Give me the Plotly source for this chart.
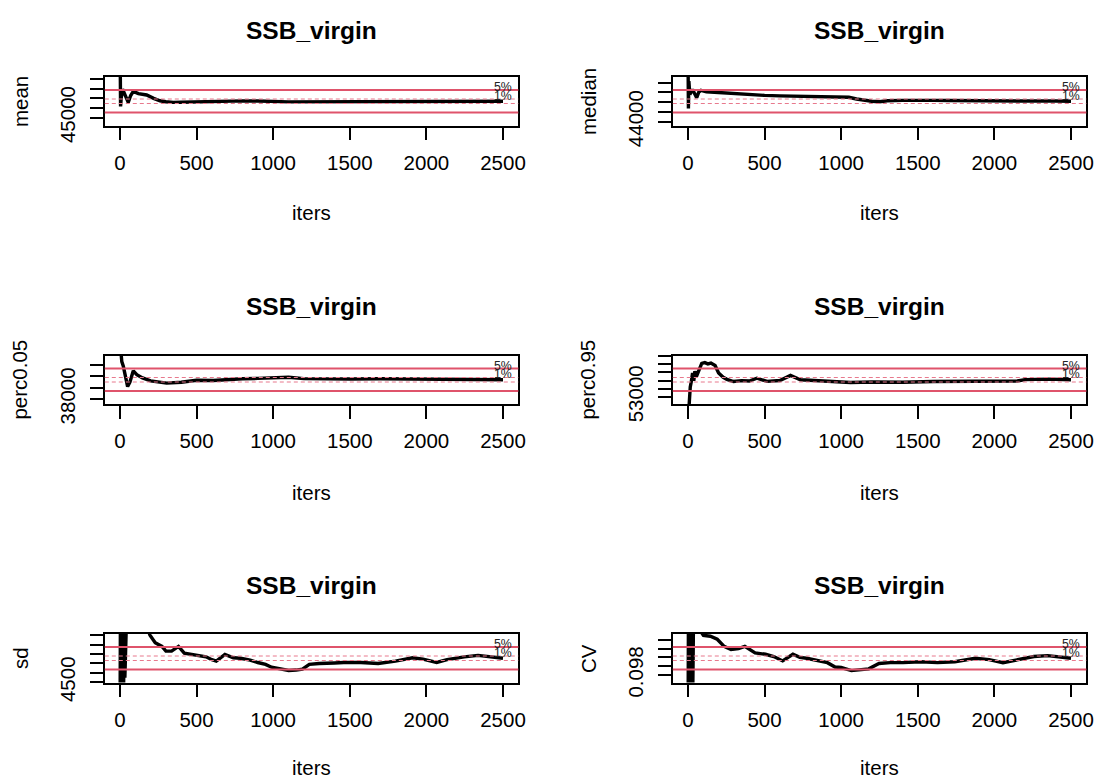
import plotly.graph_objects as go
from plotly.subplots import make_subplots

# ---------------- data ----------------
x_ticks = [0, 500, 1000, 1500, 2000, 2500]
title_text = "SSB_virgin"
x_title = "iters"

mean_iters = [1, 2, 4, 8, 17, 30, 54, 70, 87, 120, 174, 220, 261, 300, 348, 400, 500, 600, 700,
              800, 900, 1000, 1050, 1100, 1200, 1400, 1600, 1800, 2000, 2200, 2400, 2500]
mean_vals = [52000, 50000, 46160, 47000, 47960, 47400, 46580, 47300, 47730, 47500, 47350, 47000,
             46750, 46650, 46580, 46600, 46650, 46720, 46760, 46740, 46720, 46730, 46660, 46640,
             46640, 46650, 46660, 46660, 46660, 46670, 46690, 46700]
mean_ticks = [45000, 46000, 47000, 48000, 49000]
mean_ticktext = ["45000", "", "", "", ""]

median_iters = [1, 3, 6, 10, 20, 30, 45, 57, 70, 85, 120, 200, 300, 400, 500, 600, 700, 800, 900,
                1000, 1050, 1100, 1150, 1200, 1250, 1300, 1400, 1500, 1600, 1700, 1800, 1900,
                2000, 2100, 2200, 2300, 2400, 2500]
median_vals = [49500, 45360, 48170, 47250, 47020, 47300, 46790, 46470, 47020, 47210, 47070, 46980,
               46840, 46750, 46700, 46650, 46630, 46610, 46580, 46560, 46510, 46330, 46190, 46100,
               46050, 46150, 46190, 46220, 46190, 46170, 46150, 46120, 46100, 46080, 46120, 46120,
               46120, 46100]
median_ticks = [44000, 45000, 46000, 47000, 48000]
median_ticktext = ["44000", "", "", "", ""]

p05_iters = [1, 3, 12, 22, 35, 50, 65, 87, 110, 147, 200, 305, 400, 500, 610, 700, 800, 900, 1000,
             1100, 1200, 1300, 1500, 1700, 1900, 2100, 2300, 2500]
p05_vals = [43000, 42500, 41300, 40890, 40200, 39100, 39500, 40490, 40150, 39860, 39600, 39400,
            39480, 39650, 39640, 39720, 39790, 39820, 39900, 39920, 39800, 39770, 39760, 39790,
            39760, 39780, 39740, 39700]
p05_ticks = [38000, 39000, 40000, 41000]
p05_ticktext = ["38000", "", "", ""]

p95_iters = [1, 5, 10, 15, 22, 30, 38, 45, 55, 70, 90, 110, 130, 150, 177, 200, 230, 254, 297, 350,
             400, 450, 516, 600, 669, 734, 843, 950, 1061, 1200, 1400, 1600, 1800, 2000, 2150, 2200,
             2350, 2500]
p95_vals = [50000, 51500, 52900, 54220, 54880, 55930, 54980, 56150, 55500, 56100, 57110, 57200,
            57050, 57150, 56860, 55930, 55400, 55150, 54880, 54990, 54940, 55290, 54900, 55000,
            55630, 55100, 54990, 54950, 54770, 54830, 54800, 54890, 54920, 54940, 54950, 55120,
            55180, 55100]
p95_ticks = [53000, 54000, 55000, 56000, 57000, 58000]
p95_ticktext = ["53000", "", "", "", "", ""]

sd_iters = [1, 3, 5, 8, 11, 14, 17, 20, 24, 28, 32, 38, 45, 80, 120, 160, 196, 230, 274, 300, 337,
            382, 420, 472, 520, 562, 600, 629, 685, 740, 787, 850, 899, 950, 989, 1050, 1101, 1150,
            1191, 1236, 1300, 1400, 1461, 1573, 1685, 1798, 1910, 1978, 2067, 2135, 2200, 2247,
            2337, 2449, 2500]
sd_vals = [4300, 5200, 4350, 5150, 4400, 5100, 4450, 5100, 4480, 5080, 4550, 5100, 5300, 5400, 5300,
           5150, 5000, 4920, 4880, 4830, 4830, 4880, 4810, 4795, 4780, 4770, 4740, 4725, 4795, 4760,
           4755, 4735, 4710, 4690, 4660, 4640, 4625, 4630, 4640, 4690, 4700, 4705, 4710, 4710, 4700,
           4725, 4760, 4745, 4710, 4740, 4760, 4770, 4785, 4760, 4755]
sd_ticks = [4500, 4600, 4700, 4800, 4900, 5000]
sd_ticktext = ["4500", "", "", "", "", ""]

cv_iters = [1, 3, 5, 8, 11, 14, 17, 20, 24, 28, 32, 36, 60, 101, 146, 191, 236, 281, 330, 371, 438,
            506, 560, 618, 685, 730, 775, 850, 910, 960, 1000, 1067, 1120, 1180, 1247, 1320, 1404,
            1517, 1629, 1742, 1876, 1966, 2056, 2146, 2258, 2348, 2438, 2500]
cv_vals = [0.090, 0.110, 0.092, 0.109, 0.093, 0.108, 0.094, 0.108, 0.095, 0.108, 0.096, 0.110,
           0.109, 0.1070, 0.1068, 0.1061, 0.1045, 0.1038, 0.1040, 0.1045, 0.1030, 0.1027, 0.1022,
           0.1012, 0.1027, 0.1020, 0.1018, 0.1012, 0.1008, 0.0998, 0.0997, 0.0990, 0.0992, 0.0994,
           0.1006, 0.1008, 0.1008, 0.1010, 0.1008, 0.1010, 0.1018, 0.1015, 0.1008, 0.1015, 0.1022,
           0.1024, 0.1020, 0.1018]
cv_ticks = [0.098, 0.100, 0.102, 0.104, 0.106]
cv_ticktext = ["0.098", "", "", "", ""]

band_outer = 0.025   # solid band (labelled 5%)
band_inner = 0.005   # dashed band (labelled 1%)

panels = [
    ("mean", mean_iters, mean_vals, mean_ticks, mean_ticktext, 1, 1),
    ("median", median_iters, median_vals, median_ticks, median_ticktext, 1, 2),
    ("perc0.05", p05_iters, p05_vals, p05_ticks, p05_ticktext, 2, 1),
    ("perc0.95", p95_iters, p95_vals, p95_ticks, p95_ticktext, 2, 2),
    ("sd", sd_iters, sd_vals, sd_ticks, sd_ticktext, 3, 1),
    ("CV", cv_iters, cv_vals, cv_ticks, cv_ticktext, 3, 2),
]

# ---------------- layout geometry (pixels) ----------------
W, H = 1098, 780
col_left = {1: 104.8, 2: 672.8}
col_width = 413.5
row_top = {1: 77.0, 2: 355.5, 3: 634.0}
row_height = 48.5
title_y = {1: 31, 2: 307, 3: 585}
xlab_y = {1: 213, 2: 492, 3: 767}
FONT = "Liberation Sans, Arial, sans-serif"
RED = "#DF536B"
PINK = "#E8798D"

fig = make_subplots(rows=3, cols=2)

for i, (name, its, vals, yt, ytt, r, c) in enumerate(panels):
    idx = i + 1
    xa = "xaxis" if idx == 1 else f"xaxis{idx}"
    ya = "yaxis" if idx == 1 else f"yaxis{idx}"
    xref = "x" if idx == 1 else f"x{idx}"
    yref = "y" if idx == 1 else f"y{idx}"

    x0 = col_left[c] / W
    x1 = (col_left[c] + col_width) / W
    y1 = 1 - row_top[r] / H
    y0 = 1 - (row_top[r] + row_height) / H

    final = vals[-1]
    lo, hi = final * 0.95, final * 1.05
    span = hi - lo
    xmin, xmax = min(its), max(its)
    xspan = xmax - xmin

    fig.add_trace(go.Scatter(x=its, y=vals, mode="lines",
                             line=dict(color="black", width=3.4),
                             showlegend=False, hoverinfo="skip"), row=r, col=c)

    for k, dash, w, col in [(band_outer, "solid", 2, RED), (band_inner, "4px,3px", 1, PINK)]:
        for s in (1, -1):
            fig.add_hline(y=final * (1 + s * k), line=dict(color=col, width=w, dash=dash), row=r, col=c)

    common = dict(ticks="outside", ticklen=13, tickwidth=1.5, tickcolor="black",
                  showline=True, mirror=True, linecolor="black", linewidth=1.5,
                  showgrid=False, zeroline=False, automargin=False,
                  tickfont=dict(family=FONT, size=20.5, color="black"))
    fig.layout[xa].update(domain=[x0, x1], range=[xmin - 0.04 * xspan, xmax + 0.04 * xspan],
                          tickvals=x_ticks, ticktext=[str(v) for v in x_ticks],
                          ticklabelstandoff=5, **common)
    fig.layout[ya].update(domain=[y0, y1], range=[lo - 0.04 * span, hi + 0.04 * span],
                          tickvals=yt, ticktext=ytt, tickangle=-90,
                          ticklabelstandoff=7, **common)

    cx = (col_left[c] + col_width / 2) / W
    fig.add_annotation(text=f"<b>{title_text}</b>", x=cx, y=1 - title_y[r] / H, xref="paper", yref="paper",
                       showarrow=False, xanchor="center", yanchor="middle",
                       font=dict(family=FONT, size=24.5, color="black"))
    fig.add_annotation(text=x_title, x=cx, y=1 - xlab_y[r] / H,
                       xref="paper", yref="paper", showarrow=False, xanchor="center", yanchor="middle",
                       font=dict(family=FONT, size=20.5, color="black"))
    fig.add_annotation(text=name, x=(col_left[c] - 85) / W, y=(y0 + y1) / 2,
                       xref="paper", yref="paper", showarrow=False, textangle=-90,
                       xanchor="center", yanchor="middle",
                       font=dict(family=FONT, size=20.5, color="black"))
    for k, lab in [(band_outer, "5%"), (band_inner, "1%")]:
        fig.add_annotation(text=lab, x=xmax, y=final * (1 + k), xref=xref, yref=yref,
                           showarrow=False, xanchor="center", yanchor="middle", yshift=3,
                           font=dict(family=FONT, size=12.3, color="#222222"))

fig.update_layout(width=W, height=H, margin=dict(l=0, r=0, t=0, b=0, autoexpand=False),
                  paper_bgcolor="white", plot_bgcolor="white", showlegend=False)

fig.write_html("out.html")
